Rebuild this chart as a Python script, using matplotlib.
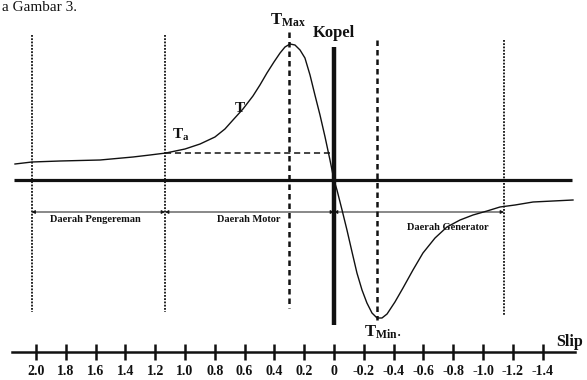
import numpy as np
import matplotlib
matplotlib.use("Agg")
import matplotlib.pyplot as plt

plt.rcParams['font.family'] = ['Liberation Serif', 'DejaVu Serif']
plt.rcParams['mathtext.fontset'] = 'custom'
plt.rcParams['mathtext.rm'] = 'Liberation Serif'
plt.rcParams['mathtext.bf'] = 'Liberation Serif:bold'

# kurva torsi - slip (satuan torsi relatif)
slip = [2.141, 2.027, 1.839, 1.570, 1.349, 1.235, 1.128, 1.000, 0.899, 0.799,
        0.732, 0.678, 0.611, 0.544, 0.497, 0.450, 0.403, 0.362, 0.329, 0.295,
        0.262, 0.228, 0.195, 0.161, 0.128, 0.094, 0.060, 0.027, 0.0, -0.020,
        -0.054, -0.087, -0.121, -0.154, -0.188, -0.221, -0.255, -0.289, -0.322, -0.356,
        -0.409, -0.463, -0.530, -0.597, -0.678, -0.758, -0.846, -0.933, -1.027, -1.114,
        -1.215, -1.336, -1.470, -1.604]
torsi = [16, 18, 19, 20, 23, 25, 27, 31, 36, 43,
         51, 60, 71, 84, 95, 107, 118, 127, 133, 136,
         135, 130, 122, 105, 85, 65, 43, 20, 0, -10,
         -30, -50, -72, -93, -110, -123, -133, -138, -138, -134,
         -122, -108, -90, -73, -58, -47, -40, -35, -31, -27,
         -25, -22, -21, -20]

slip_ticks = [2.0, 1.8, 1.6, 1.4, 1.2, 1.0, 0.8, 0.6, 0.4, 0.2, 0,
              -0.2, -0.4, -0.6, -0.8, -1.0, -1.2, -1.4]
tick_labels = ['2.0', '1.8', '1.6', '1.4', '1.2', '1.0', '0.8', '0.6', '0.4', '0.2', '0',
               '-0.2', '-0.4', '-0.6', '-0.8', '-1.0', '-1.2', '-1.4']

# batas daerah kerja
s_batas = [2.03, 1.134, 0.0, -1.141]
s_tmax = 0.30
s_tmin = -0.29
t_a = 27
daerah = ['Daerah Pengereman', 'Daerah Motor', 'Daerah Generator']

fig = plt.figure(figsize=(5.87, 3.80), dpi=100)
ax = fig.add_axes([0, 0, 1, 1])
ax.set_xlim(2.2416, -1.698)
ax.set_ylim(-200, 180)

ink = '#111111'

# sumbu torsi nol
ax.plot([2.147, -1.60], [0, 0], color=ink, lw=2.3, solid_capstyle='butt')

# garis batas bertitik
for s in [s_batas[0], s_batas[1]]:
    ax.plot([s, s], [145, -132], color=ink, lw=1.3, linestyle=(0, (1, 0.8)))
ax.plot([s_batas[3], s_batas[3]], [140, -136], color=ink, lw=1.3, linestyle=(0, (1, 0.8)))

# garis putus-putus Tmax / Tmin
ax.plot([s_tmax, s_tmax], [148, -128], color=ink, lw=1.8, linestyle=(0, (2.2, 1.6)))
ax.plot([s_tmin, s_tmin], [140, -140], color=ink, lw=1.8, linestyle=(0, (2.2, 1.6)))

# garis Ta
ax.plot([s_batas[1], 0], [t_a, t_a], color=ink, lw=1.1, linestyle=(0, (4, 2.5)))

# sumbu kopel
ax.plot([0, 0], [133, -145], color=ink, lw=3.2, solid_capstyle='butt')

# kurva
ax.plot(slip, torsi, color=ink, lw=1.0)

# panah daerah
for a, b in zip(s_batas[:-1], s_batas[1:]):
    ax.annotate('', xy=(b, -32), xytext=(a, -32),
                arrowprops=dict(arrowstyle='<|-|>', lw=0.7, color=ink,
                                shrinkA=0, shrinkB=0, mutation_scale=5))
ax.text(1.60, -40, daerah[0], fontsize=7.5, fontweight='bold', ha='center', va='center', color=ink)
ax.text(0.57, -40, daerah[1], fontsize=7.5, fontweight='bold', ha='center', va='center', color=ink)
ax.text(-0.765, -47, daerah[2], fontsize=7.5, fontweight='bold', ha='center', va='center', color=ink)

# label
ax.text(0.309, 160, r'$\mathbf{T_{Max}}$', fontsize=12, ha='center', va='center', color=ink)
ax.text(0.0, 147, 'Kopel', fontsize=12, fontweight='bold', ha='center', va='center', color=ink)
ax.text(0.631, 71, 'T', fontsize=11, fontweight='bold', ha='center', va='center', color=ink)
ax.text(1.03, 45, r'$\mathbf{T_a}$', fontsize=11, ha='center', va='center', color=ink)
ax.text(-0.33, -152, r'$\mathbf{T_{Min}}$.', fontsize=12, ha='center', va='center', color=ink)
ax.text(-1.584, -162, 'Slip', fontsize=11.5, fontweight='bold', ha='center', va='center', color=ink)

# sumbu slip
for side in ['top', 'left', 'right']:
    ax.spines[side].set_visible(False)
ax.spines['bottom'].set_position(('data', -172))
ax.spines['bottom'].set_bounds(2.161, -1.617)
ax.spines['bottom'].set_linewidth(1.8)
ax.spines['bottom'].set_color(ink)
ax.set_xticks(slip_ticks)
ax.set_xticklabels(tick_labels, fontweight='bold')
ax.tick_params(axis='x', direction='inout', length=11, width=1.8, color=ink,
               labelsize=10, pad=4, labelcolor=ink)
ax.set_yticks([])

fig.text(0.003, 0.997, 'a Gambar 3.', fontsize=11, ha='left', va='top', color=ink)

fig.savefig('out.png', dpi=100)
